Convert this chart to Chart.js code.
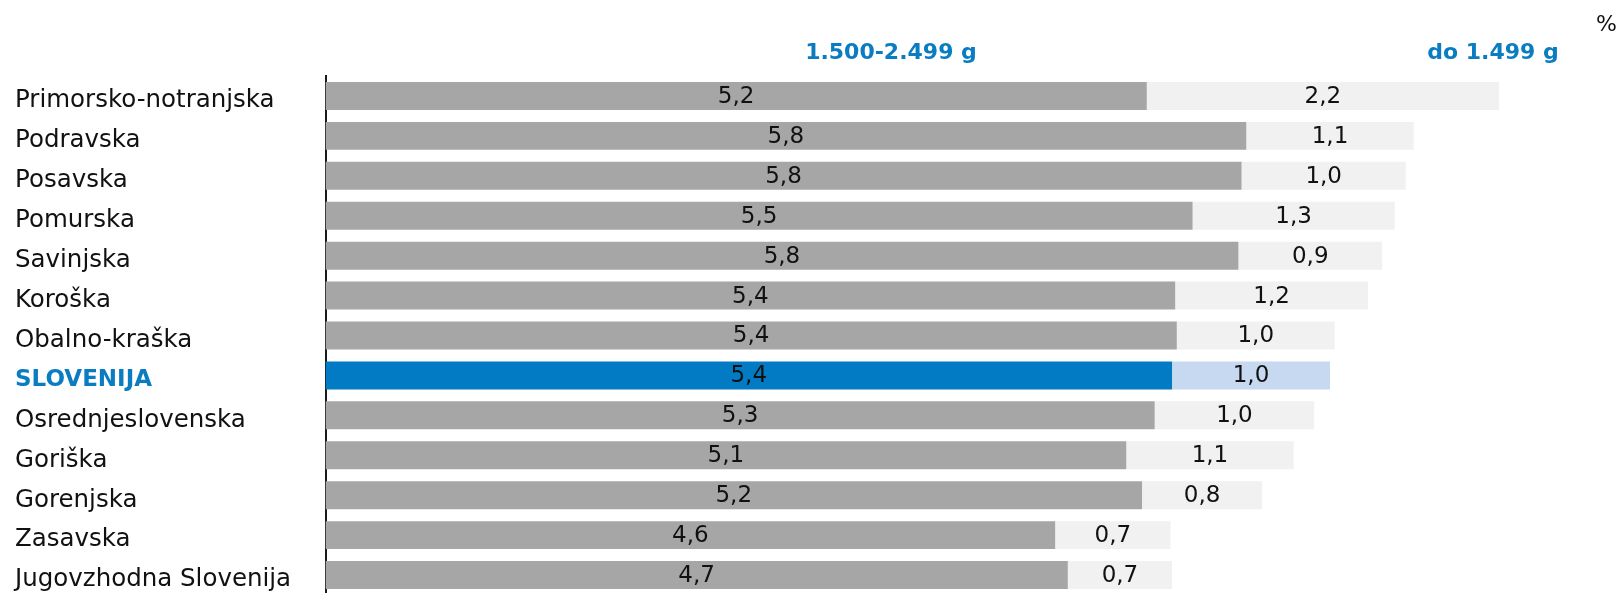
<!DOCTYPE html>
<html>
<head>
<meta charset="utf-8">
<script src="https://cdn.jsdelivr.net/npm/chart.js@4.4.1/dist/chart.umd.min.js"></script>
<style>
  html, body { margin: 0; padding: 0; background: #fff; overflow: hidden; }
  canvas { display: block; }
</style>
</head>
<body>
<canvas id="chart" width="1623" height="600"></canvas>
<script>
// Regions, top to bottom
const regions = [
  'Primorsko-notranjska', 'Podravska', 'Posavska', 'Pomurska', 'Savinjska',
  'Koroška', 'Obalno-kraška', 'SLOVENIJA', 'Osrednjeslovenska', 'Goriška',
  'Gorenjska', 'Zasavska', 'Jugovzhodna Slovenija'
];
// share of births 1.500-2.499 g (%)
const weight1500to2499 = [5.20, 5.83, 5.80, 5.49, 5.78, 5.38, 5.39, 5.36, 5.25, 5.07, 5.17, 4.62, 4.70];
// share of births up to 1.499 g (%)
const weightUpTo1499 = [2.23, 1.06, 1.04, 1.28, 0.91, 1.22, 1.00, 1.00, 1.01, 1.06, 0.76, 0.73, 0.66];
const seriesNames = ['1.500-2.499 g', 'do 1.499 g'];
const unitLabel = '%';

const BLUE = '#0a7cc2';
const highlight = regions.indexOf('SLOVENIJA');

function colorsFor(normal, special) {
  return regions.map((_, i) => i === highlight ? special : normal);
}

// value labels in the middle of each bar segment, decimal comma
const valueLabels = {
  id: 'valueLabels',
  afterDatasetsDraw(chart) {
    const ctx = chart.ctx;
    ctx.save();
    ctx.font = '23px "DejaVu Sans"';
    ctx.fillStyle = '#111';
    ctx.textAlign = 'center';
    ctx.textBaseline = 'middle';
    chart.data.datasets.forEach((ds, di) => {
      chart.getDatasetMeta(di).data.forEach((bar, i) => {
        const txt = ds.data[i].toFixed(1).replace('.', ',');
        ctx.fillText(txt, (bar.x + bar.base) / 2, bar.y + 1);
      });
    });
    ctx.restore();
  }
};

// region names on the left, sitting a little below the bar centre
const regionLabels = {
  id: 'regionLabels',
  afterDraw(chart) {
    const ctx = chart.ctx;
    const y = chart.scales.y;
    ctx.save();
    ctx.textAlign = 'left';
    ctx.textBaseline = 'middle';
    regions.forEach((name, i) => {
      if (i === highlight) {
        ctx.font = 'bold 23px "DejaVu Sans"';
        ctx.fillStyle = BLUE;
      } else {
        ctx.font = '24.5px "DejaVu Sans"';
        ctx.fillStyle = '#111';
      }
      ctx.fillText(name, 15, y.getPixelForValue(i) + 5);
    });
    ctx.restore();
  }
};

// series headings above the bars and the unit in the corner
const headings = {
  id: 'headings',
  afterDraw(chart) {
    const ctx = chart.ctx;
    ctx.save();
    ctx.textBaseline = 'alphabetic';
    ctx.font = 'bold 22px "DejaVu Sans"';
    ctx.fillStyle = BLUE;
    ctx.textAlign = 'center';
    ctx.fillText(seriesNames[0], 891, 59);
    ctx.fillText(seriesNames[1], 1493, 59);
    ctx.font = '22px "DejaVu Sans"';
    ctx.fillStyle = '#111';
    ctx.textAlign = 'right';
    ctx.fillText(unitLabel, 1617, 31);
    ctx.restore();
  }
};

new Chart(document.getElementById('chart'), {
  type: 'bar',
  data: {
    labels: regions,
    datasets: [
      {
        label: seriesNames[0],
        data: weight1500to2499,
        backgroundColor: colorsFor('#a6a6a6', '#027bc4'),
        barPercentage: 0.70,
        categoryPercentage: 1
      },
      {
        label: seriesNames[1],
        data: weightUpTo1499,
        backgroundColor: colorsFor('#f1f1f1', '#c6d9f0'),
        barPercentage: 0.70,
        categoryPercentage: 1
      }
    ]
  },
  options: {
    indexAxis: 'y',
    responsive: false,
    animation: false,
    layout: { padding: { left: 15, right: 34, top: 76, bottom: 5 } },
    plugins: {
      legend: { display: false },
      tooltip: { enabled: false }
    },
    scales: {
      x: {
        stacked: true,
        display: false,
        min: 0,
        max: 8
      },
      y: {
        stacked: true,
        grid: { display: false },
        border: { display: true, color: '#1a1a1a', width: 2 },
        ticks: { display: false },
        afterFit(scale) {
          scale.width = 310.5;
          scale.paddingTop = 0;
          scale.paddingBottom = 0;
        }
      }
    }
  },
  plugins: [valueLabels, regionLabels, headings]
});
</script>
</body>
</html>
